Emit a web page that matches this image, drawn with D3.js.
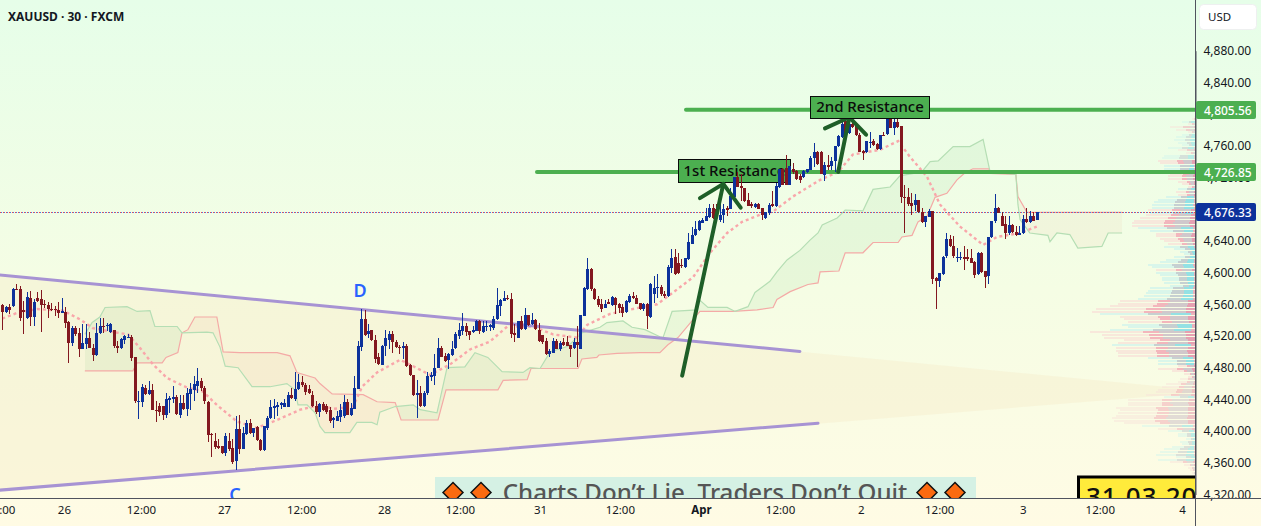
<!DOCTYPE html>
<html><head><meta charset="utf-8">
<style>html,body{margin:0;padding:0;background:#fff;overflow:hidden}svg{display:block}text{font-family:"Noto Sans",sans-serif}</style>
<script src="https://cdn.jsdelivr.net/npm/d3@7/dist/d3.min.js"></script>
</head><body><div id="chart"></div>
<script>
const symbolLabel = "XAUUSD · 30 · FXCM";
const opens = [
4559,4550,4556,4558,4579,4579,4553,4542,4568,4544, 4568,4567,4560,4559,4554,4554,4553,4549,4550,4538,
4511,4530,4524,4504,4509,4517,4505,4496,4524,4533, 4534,4525,4527,4508,4505,4515,4519,4519,4493,4437,
4437,4455,4447,4452,4427,4432,4432,4421,4440,4441, 4443,4421,4436,4428,4447,4452,4457,4463,4454,4437,
4396,4388,4381,4381,4372,4388,4379,4362,4403,4378, 4396,4410,4398,4405,4389,4376,4405,4417,4430,4431,
4433,4431,4431,4446,4441,4453,4462,4458,4453,4446, 4432,4424,4434,4432,4426,4414,4413,4418,4419,4437,
4420,4429,4454,4507,4542,4522,4527,4515,4493,4484, 4507,4515,4522,4512,4506,4505,4507,4483,4471,4446,
4448,4431,4448,4469,4470,4480,4505,4495,4489,4496, 4504,4521,4527,4533,4526,4525,4527,4539,4526,4532,
4531,4531,4541,4558,4564,4568,4567,4524,4517,4539, 4529,4547,4535,4540,4528,4521,4514,4497,4499,4514,
4504,4512,4513,4509,4504,4513,4504,4546,4579,4604, 4579,4567,4561,4556,4563,4559,4568,4560,4556,4550,
4563,4571,4568,4562,4554,4560,4544,4574,4581,4582, 4573,4570,4606,4620,4612,4610,4608,4617,4637,4647,
4654,4663,4666,4671,4682,4680,4667,4672,4681,4681, 4696,4721,4709,4707,4692,4686,4683,4687,4681,4669,
4675,4686,4684,4708,4731,4732,4711,4731,4728,4722, 4721,4727,4730,4745,4752,4752,4724,4736,4735,4741,
4760,4771,4791,4776,4787,4786,4774,4754,4752,4765, 4766,4762,4756,4774,4775,4794,4783,4790,4785,4696,
4696,4688,4685,4691,4676,4664,4671,4678,4593,4589, 4598,4620,4642,4633,4620,4620,4620,4620,4619,4614,
4598,4625,4602,4596,4645,4664,4681,4672,4661,4650, 4660,4651,4647,4650,4668,4664,4672,4666];
const highs = [
4560,4558,4560,4581,4585,4583,4564,4575,4577,4567, 4576,4578,4566,4563,4562,4558,4563,4568,4556,4539,
4532,4533,4530,4535,4535,4525,4510,4537,4543,4543, 4537,4537,4528,4514,4518,4521,4522,4521,4494,4451,
4459,4458,4463,4459,4438,4436,4432,4448,4444,4457, 4445,4445,4445,4455,4461,4470,4479,4467,4457,4438,
4398,4398,4390,4381,4398,4398,4390,4419,4420,4405, 4414,4415,4404,4407,4390,4407,4419,4439,4440,4437,
4437,4440,4449,4455,4474,4472,4469,4461,4458,4451, 4438,4436,4437,4434,4430,4418,4425,4434,4445,4440,
4436,4469,4514,4554,4553,4535,4528,4521,4499,4509, 4528,4526,4526,4515,4509,4512,4510,4485,4471,4465,
4457,4450,4475,4474,4497,4517,4507,4499,4498,4514, 4525,4537,4549,4537,4526,4532,4540,4540,4539,4539,
4535,4545,4580,4567,4577,4572,4574,4535,4539,4545, 4555,4547,4549,4541,4537,4521,4518,4503,4518,4516,
4514,4518,4520,4509,4518,4533,4547,4582,4619,4606, 4580,4570,4567,4565,4567,4570,4569,4562,4560,4566,
4573,4575,4572,4562,4562,4562,4587,4596,4598,4584, 4577,4609,4630,4630,4625,4617,4619,4650,4657,4665,
4667,4669,4681,4686,4686,4686,4686,4686,4684,4707, 4721,4727,4724,4707,4700,4689,4688,4688,4682,4676,
4688,4703,4713,4731,4732,4748,4735,4738,4730,4724, 4730,4731,4747,4763,4753,4753,4739,4749,4746,4760,
4774,4791,4795,4789,4795,4787,4776,4755,4766,4778, 4768,4764,4774,4777,4795,4797,4798,4795,4785,4711,
4707,4701,4699,4692,4681,4672,4680,4678,4594,4600, 4621,4650,4648,4646,4631,4626,4634,4630,4630,4615,
4626,4626,4602,4645,4665,4699,4683,4676,4671,4671, 4661,4659,4659,4673,4681,4678,4676,4676];
const lows = [
4527,4549,4548,4556,4578,4539,4522,4541,4533,4533, 4563,4525,4555,4543,4551,4545,4543,4549,4530,4486,
4507,4520,4494,4504,4503,4505,4488,4495,4522,4524, 4526,4524,4505,4499,4504,4510,4517,4489,4436,4415,
4430,4446,4445,4427,4412,4419,4414,4416,4423,4435, 4420,4417,4427,4419,4427,4438,4448,4450,4434,4386,
4367,4377,4377,4371,4369,4375,4358,4351,4371,4377, 4395,4396,4392,4388,4375,4375,4402,4415,4415,4419,
4428,4431,4431,4440,4438,4452,4456,4446,4447,4431, 4422,4418,4425,4421,4410,4404,4413,4411,4417,4420,
4419,4428,4453,4501,4520,4518,4514,4486,4484,4484, 4495,4503,4499,4505,4497,4491,4481,4470,4444,4416,
4430,4430,4445,4463,4458,4479,4493,4487,4478,4495, 4503,4516,4521,4520,4515,4524,4526,4522,4524,4526,
4526,4527,4540,4545,4564,4565,4517,4512,4517,4528, 4528,4533,4534,4528,4512,4510,4496,4494,4499,4504,
4501,4507,4507,4493,4503,4481,4503,4545,4578,4577, 4565,4556,4550,4555,4560,4558,4548,4549,4544,4549,
4562,4567,4561,4553,4552,4529,4543,4562,4568,4570, 4568,4569,4600,4597,4598,4606,4606,4616,4636,4646,
4653,4662,4665,4669,4668,4667,4664,4662,4671,4681, 4694,4708,4690,4689,4684,4682,4682,4680,4667,4668,
4673,4683,4683,4707,4711,4710,4710,4724,4717,4713, 4720,4726,4729,4733,4736,4724,4716,4730,4730,4727,
4759,4770,4774,4775,4783,4772,4753,4742,4751,4757, 4760,4755,4755,4772,4774,4782,4774,4783,4688,4650,
4684,4673,4678,4675,4663,4657,4670,4585,4554,4582, 4597,4619,4632,4619,4613,4616,4603,4615,4613,4593,
4597,4600,4580,4585,4644,4663,4675,4659,4643,4648, 4650,4646,4647,4649,4663,4663,4666,4666];
const closes = [
4550,4556,4552,4579,4578,4542,4551,4569,4544,4563, 4564,4559,4559,4554,4553,4553,4549,4551,4536,4511,
4530,4522,4504,4511,4517,4505,4496,4524,4533,4532, 4534,4535,4507,4505,4516,4520,4519,4492,4437,4438,
4456,4447,4452,4427,4426,4425,4421,4441,4442,4443, 4421,4436,4428,4448,4453,4459,4463,4454,4437,4395,
4395,4381,4379,4372,4394,4378,4361,4403,4378,4398, 4410,4398,4404,4389,4377,4406,4417,4431,4432,4433,
4436,4436,4446,4442,4453,4462,4458,4449,4448,4432, 4424,4434,4427,4425,4412,4416,4419,4427,4437,4420,
4429,4455,4508,4542,4522,4526,4515,4491,4484,4508, 4517,4522,4512,4506,4505,4507,4482,4470,4446,4448,
4431,4448,4469,4471,4480,4505,4494,4489,4497,4504, 4522,4528,4533,4526,4521,4528,4539,4526,4533,4532,
4534,4542,4559,4565,4568,4567,4523,4522,4539,4529, 4547,4535,4540,4529,4514,4512,4497,4501,4514,4504,
4511,4508,4508,4504,4512,4509,4547,4581,4604,4579, 4566,4560,4555,4561,4560,4569,4559,4555,4549,4564,
4571,4568,4561,4554,4560,4545,4586,4581,4582,4573, 4570,4607,4619,4598,4599,4609,4619,4638,4648,4655,
4665,4667,4672,4682,4670,4670,4673,4680,4679,4697, 4721,4709,4707,4691,4685,4683,4687,4681,4672,4676,
4685,4684,4709,4731,4711,4711,4735,4727,4718,4717, 4728,4731,4745,4752,4737,4724,4736,4733,4741,4760,
4772,4787,4775,4787,4783,4773,4753,4752,4766,4765, 4761,4756,4774,4773,4794,4783,4790,4784,4696,4695,
4687,4684,4691,4676,4664,4672,4678,4592,4589,4599, 4620,4642,4633,4620,4620,4620,4617,4617,4613,4598,
4625,4601,4595,4645,4665,4681,4675,4660,4650,4660, 4651,4647,4650,4668,4664,4672,4666,4676];

const kijunBars = [0,4.2,10,17.4,22.3,26,31.8,36.1,39.5,43.3,47.3,53,57.6,61.6,67.4,73.1,78.9,85.5,91.2,95,100.7,103.3,107.6,114.2,117,122.8,128.5,134.3,140,145,152.4,158.1,165,167.9,174.5,183.1,188,192.6,198.3,203.2,208.1,212.4,217.5,221.3,227,234.8,240,244.2,252,257.2,260.6,265.5,269.2,275,281.6,285.6,292.2,297];
const kijunValues = [4542,4549,4554,4552,4541,4530,4525,4522,4505,4484,4467,4455,4450,4433,4412,4404,4414,4427,4433,4428,4431,4456,4474,4490,4484,4471,4484,4503,4513,4532,4532,4522,4518,4534,4548,4556,4560,4575,4594,4625,4650,4664,4673,4677,4696,4717,4727,4749,4755,4766,4746,4721,4686,4658,4635,4645,4650,4658];
const spanABars = [23.7,25.8,28,29.5,35.8,38.7,42.4,43.8,50.2,51.6,58.8,60.5,62.5,64,67.7,71.7,76.9,81.7,84,84.9,87.5,89.8,91.2,92.6,99.8,101.8,106.1,107.6,108.4,112.8,118,120,124.8,127.7,132.8,135.7,139.4,143.5,149.5,151.5,154.4,157.3,162.4,166.4,171.6,173.6,178.2,180.8,184.5,188.8,189.7,192.3,199.5,200.3,202.6,208.1,210.4,214.1,216.1,220.4,222.4,225.3,229,231.9,234.2,235.4,239.7,242,247.1,250,254.9,257.7,264,266.4,268.7,273,277.8,281.6,283.6,291,291.6,292.2,295,300.2,300.8,302.8,306.5,308.8,315.7,317.5,321.5];
const spanAValues = [4522,4537,4544,4556,4557,4551,4552,4532,4532,4524,4525,4524,4506,4482,4480,4456,4456,4460,4452,4433,4433,4423,4406,4398,4398,4411,4411,4408,4424,4431,4433,4427,4423,4480,4481,4499,4493,4475,4474,4480,4479,4500,4507,4524,4531,4537,4539,4531,4528,4519,4518,4551,4553,4565,4556,4556,4551,4557,4575,4589,4601,4616,4628,4641,4650,4660,4669,4679,4678,4705,4708,4722,4727,4740,4741,4759,4759,4768,4727,4724,4686,4667,4650,4647,4639,4650,4648,4631,4633,4650,4650];
const spanBBars = [23.7,37.5,38.7,45.9,47,50.4,51.6,53.3,55.3,61.6,63.4,68.2,78.9,82.6,84.6,89.8,91.2,94.7,103.6,107.6,112.8,114.5,125.1,127.4,142.3,143.8,150.7,151.8,165.3,166.4,170.7,171.3,176.5,183.1,188.8,191.1,194,200.3,209.8,216.7,221.3,222.4,226.2,231.3,234.2,234.8,240.2,242,247.1,250,257.2,258.3,261.2,262.9,265.5,267.8,271.2,274.1,276.4,278.7,283.3,283.6,291,291.6,294.2,321.5];
const spanBValues = [4476,4476,4486,4486,4493,4499,4524,4528,4544,4544,4500,4499,4499,4495,4474,4467,4460,4447,4446,4437,4436,4414,4414,4452,4452,4464,4465,4479,4479,4491,4493,4496,4498,4499,4499,4509,4518,4551,4551,4553,4556,4566,4576,4585,4587,4601,4602,4625,4625,4638,4638,4645,4647,4664,4671,4695,4700,4717,4726,4731,4731,4725,4724,4696,4676,4676];

const profileUp = [0,0,7,1,4,4,2,7,10,11,9,7,14,4,2,16,17,9,8,16,16,15,5,7,6,4,3,1,9,5,4,15,19,21,22,22,11,23,12,14,15,16,15,29,23,10,11,9,
8,6,16,11,8,6,11,15,18,24,22,10,20,18,17,17,16,13,23,24,25,26,29,18,20,22,25,24,48,18,18,17,37,34,43,26,23,23,18,20,42,20,21,19,19,24,19,19,4,
9,6,3,2,4,4,7,8,9,10,12,16,17,18,16,20,19,19,20,21,20,18,27,9,14,9,9,5,8,7,12,16,18,20,10,19,6,3,2,1,1,0,0];
const profileDown = [1,2,2,4,13,10,4,3,5,5,4,3,6,9,5,8,9,19,18,10,9,8,13,14,14,9,7,4,4,10,9,6,9,10,11,10,24,12,25,28,31,32,32,14,11,20,20,18,
16,14,8,5,4,3,5,7,9,11,10,20,10,9,8,8,8,6,11,12,13,13,14,38,39,43,50,52,23,38,36,34,18,16,21,53,47,46,36,39,21,40,40,39,39,11,9,9,9,
19,12,6,4,8,9,15,17,19,20,25,8,34,34,34,40,38,39,40,42,41,36,13,19,7,4,4,2,4,3,6,8,9,10,5,9,13,6,4,3,2,1,1];
const profileTopPrice = 4798, profileStep = 3.28;
const valueAreaHigh = 4745, valueAreaLow = 4470;

const priceTicks = [4880,4840,4800,4760,4720,4680,4640,4600,4560,4520,4480,4440,4400,4360,4320];
const timeTickBars = [-0.6,17.7,39.8,63.65,85.8,109.6,131.4,154.4,177.3,200.6,223.3,246.5,269,293,315.1,338.7];
const timeTickLabels = ["12:00","26","12:00","27","12:00","28","12:00","31","12:00","Apr","12:00","2","12:00","3","12:00","4"];
const resistance2 = 4805.56, resistance1 = 4726.85, lastPrice = 4676.33;
const upperTrendBars = [-0.7, 229], upperTrendValues = [4597, 4500.5];
const lowerTrendBars = [-0.7, 234.2], lowerTrendValues = [4325.5, 4410];
const triangleApexBar = 348, triangleApexValue = 4450;
const arrow1Bars = [195.2,207,200.3,207,212], arrow1Values = [4470,4712,4694,4712,4682];
const arrow2Bars = [240,243.2,236.2,243.2,248],arrow2Values = [4727,4796,4782,4796,4774];

const W=1261,H=526,axisX=1195.5,axisY=498.5;
const x=d3.scaleLinear().domain([0,297]).range([2.3,2.3+297*3.483]);
const y=d3.scaleLinear().domain([4880,4320]).range([50.7,494.5]);
const vol=d3.scaleLinear().domain([0,100]).range([0,100]);
const FONT='"Noto Sans",sans-serif';

const svg=d3.select("#chart").append("svg").attr("width",W).attr("height",H);
const defs=svg.append("defs");
const g=defs.append("linearGradient").attr("id","bg").attr("x1",0).attr("y1",0).attr("x2",0).attr("y2",1);
g.append("stop").attr("offset","0%").attr("stop-color","#e6fee9");
g.append("stop").attr("offset","55%").attr("stop-color","#f5fde4");
g.append("stop").attr("offset","100%").attr("stop-color","#fffbe4");
svg.append("rect").attr("width",W).attr("height",H).attr("fill","url(#bg)");
defs.append("clipPath").attr("id","plot").append("rect").attr("width",axisX).attr("height",axisY);

const spanA=spanABars.map((b,i)=>[b,spanAValues[i]]);
const spanB=spanBBars.map((b,i)=>[b,spanBValues[i]]);
const lineGen=d3.line().x(d=>x(d[0])).y(d=>y(d[1]));
const areaUp=d3.area().x(d=>x(d[0])).y0(0).y1(d=>y(d[1]));
const areaDown=d3.area().x(d=>x(d[0])).y0(H).y1(d=>y(d[1]));
defs.append("clipPath").attr("id","belowA").append("path").attr("d",areaDown(spanA));
defs.append("clipPath").attr("id","belowB").append("path").attr("d",areaDown(spanB));

const plot=svg.append("g").attr("clip-path","url(#plot)");
// triangle
plot.append("path").attr("fill","#f6eccb").attr("fill-opacity",.42).attr("d",d3.line()([
 [x(upperTrendBars[0]),y(upperTrendValues[0])],[x(triangleApexBar),y(triangleApexValue)],[x(lowerTrendBars[0]),y(lowerTrendValues[0])]]));
// profile
const pf=plot.append("g").attr("shape-rendering","crispEdges");
profileUp.forEach((u,i)=>{
  const d=profileDown[i],price=profileTopPrice-i*profileStep,ry=Math.round(y(price)),h=2;
  const teal=u>=d,dom=Math.max(u,d),mn=Math.min(u,d);
  const inVA=price<=valueAreaHigh&&price>=valueAreaLow;
  const row=pf.append("g").attr("opacity",inVA?.82:.5);
  const r=(a,b,c)=>row.append("rect").attr("x",axisX-vol(b)).attr("width",vol(b-a)).attr("y",ry).attr("height",h).attr("fill",c);
  r(dom,dom*2,teal?"#d3f5ec":"#f8e3d9");
  if(teal){ r(0,dom,"#7edbe4"); r(dom-mn,dom,"#bcc6cd"); r(0,mn*.2,"#e7a2b4"); }
  else { r(0,dom,"#f2a6b4"); r(mn*.4,mn*1.4,"#c9bcc6"); r(0,mn*.4,"#e28ba6"); }
});
// cloud
const cl=plot.append("g");
cl.append("g").attr("clip-path","url(#belowA)").append("path").attr("d",areaUp(spanB)).attr("fill","#4caf50").attr("fill-opacity",.07);
cl.append("g").attr("clip-path","url(#belowB)").append("path").attr("d",areaUp(spanA)).attr("fill","#ef6c50").attr("fill-opacity",.055);
cl.append("path").attr("d",lineGen(spanB)).attr("fill","none").attr("stroke","#f4aaa6").attr("stroke-width",1.2);
cl.append("path").attr("d",lineGen(spanA)).attr("fill","none").attr("stroke","#b5deb4").attr("stroke-width",1.2);
// kijun
plot.append("path").attr("d",lineGen(kijunBars.map((b,i)=>[b,kijunValues[i]]))).attr("fill","none").attr("stroke","#f9a6aa").attr("stroke-width",2.4).attr("stroke-dasharray","3 3");
// purple trend lines
[[upperTrendBars,upperTrendValues],[lowerTrendBars,lowerTrendValues]].forEach(([b,v])=>{
  plot.append("path").attr("d",lineGen(b.map((q,i)=>[q,v[i]]))).attr("fill","none").attr("stroke","#a793d3").attr("stroke-width",3).attr("stroke-linecap","round");
});
// resistance lines
const green="#4caf50";
plot.append("line").attr("x1",537).attr("x2",axisX).attr("y1",y(resistance1)).attr("y2",y(resistance1)).attr("stroke",green).attr("stroke-width",4).attr("stroke-linecap","round");
plot.append("line").attr("x1",686).attr("x2",axisX).attr("y1",y(resistance2)).attr("y2",y(resistance2)).attr("stroke",green).attr("stroke-width",4).attr("stroke-linecap","round");
function tag(parent,x0,y0,w,h,t){
  parent.append("rect").attr("x",x0+.5).attr("y",y0+.5).attr("width",w).attr("height",h).attr("fill",green).attr("stroke","#0b0b0b").attr("stroke-width",1);
  parent.append("text").attr("x",x0+w/2+.5).attr("y",y0+h/2+5).attr("text-anchor","middle").attr("font-size",15).attr("font-weight",500).attr("fill","#0b0b0b").text(t);
}
tag(plot,678,159,112,23,"1st Resistance");
// price dotted
plot.append("line").attr("x1",0).attr("x2",axisX).attr("y1",212.5).attr("y2",212.5).attr("stroke","#f4474f").attr("stroke-dasharray","1 2").attr("class","last").attr("data-price",lastPrice);
plot.append("line").attr("x1",0).attr("x2",axisX).attr("y1",212.5).attr("y2",212.5).attr("stroke","#4a7fe6").attr("stroke-dasharray","1 2").attr("stroke-dashoffset",-1);
// candles
const BLUE="#0d329b",RED="#831820";
const cg=plot.append("g").attr("shape-rendering","crispEdges");
opens.forEach((o,i)=>{
  const c=closes[i],col=c>=o?BLUE:RED,cx=Math.round(x(i));
  cg.append("line").attr("x1",cx+.5).attr("x2",cx+.5).attr("y1",y(highs[i])).attr("y2",y(lows[i])).attr("stroke",col);
  const top=y(Math.max(o,c)),bot=y(Math.min(o,c));
  cg.append("rect").attr("x",cx-1).attr("width",3).attr("y",Math.round(top)).attr("height",Math.max(1,Math.round(bot-top))).attr("fill",col);
});
// arrows
[[arrow1Bars,arrow1Values],[arrow2Bars,arrow2Values]].forEach(([b,v])=>{
  plot.append("path").attr("d",lineGen(b.slice(0,2).map((q,i)=>[q,v[i]]))).attr("fill","none").attr("stroke","#1e5f28").attr("stroke-width",4).attr("stroke-linecap","round");
  plot.append("path").attr("d",lineGen(b.slice(2).map((q,i)=>[q,v[i+2]]))).attr("fill","none").attr("stroke","#1e5f28").attr("stroke-width",4).attr("stroke-linecap","round").attr("stroke-linejoin","round");
});
tag(plot,810,96,119,22,"2nd Resistance");
// wave letters
plot.append("text").attr("x",360).attr("y",297).attr("text-anchor","middle").attr("font-size",18).attr("font-weight",600).attr("fill","#2962ff").text("D");
plot.append("text").attr("x",235).attr("y",501).attr("text-anchor","middle").attr("font-size",18).attr("font-weight",600).attr("fill","#2962ff").text("C");
// banner
plot.append("rect").attr("x",435).attr("y",477).attr("width",541).attr("height",30).attr("fill","#d5f1e4");
plot.append("text").attr("x",705).attr("y",501).attr("text-anchor","middle").attr("font-size",24.1).attr("font-weight",500).attr("fill","#555").text("Charts Don’t Lie, Traders Don’t Quit");
[453,481,927,955].forEach(cx=>{
  plot.append("path").attr("d",d3.line()([[cx-10,492.5],[cx,482.5],[cx+10,492.5],[cx,502.5]])+"Z").attr("fill","#fb6a10").attr("stroke","#111").attr("stroke-width",1.5);
});
// date box
plot.append("rect").attr("x",1078.5).attr("y",477).attr("width",140).attr("height",40).attr("fill","#ffeb3b").attr("stroke","#000").attr("stroke-width",3);
plot.append("text").attr("x",1086).attr("y",506).attr("font-size",26).attr("font-weight",500).attr("letter-spacing",1).attr("fill","#111").text("31.03.2026");
// title
svg.append("text").attr("x",8).attr("y",21).attr("font-size",12).attr("font-weight",700).attr("fill","#131722").text(symbolLabel);

// axes
const AXC="#50535e";
const yAxis=svg.append("g").attr("transform",`translate(${axisX},0)`).call(d3.axisRight(y).tickValues(priceTicks).tickFormat(d3.format(",.2f")).tickSize(0).tickPadding(8));
yAxis.select(".domain").attr("stroke",AXC);
yAxis.selectAll("text").attr("font-size",12).attr("font-family",FONT).attr("fill","#131722");
const xAxis=svg.append("g").attr("transform",`translate(0,${axisY})`).call(d3.axisBottom(x).tickValues(timeTickBars).tickFormat((d,i)=>timeTickLabels[i]).tickSize(0).tickPadding(7));
xAxis.select(".domain").remove();
svg.append("line").attr("x1",0).attr("x2",W).attr("y1",axisY).attr("y2",axisY).attr("stroke",AXC);
svg.append("line").attr("x1",axisX).attr("x2",axisX).attr("y1",0).attr("y2",H).attr("stroke",AXC);
xAxis.selectAll("text").attr("font-size",11.5).attr("font-family",FONT).attr("fill","#131722").attr("font-weight",(d,i)=>timeTickLabels[i]==="Apr"?700:400);
// usd button
svg.append("rect").attr("x",1199.5).attr("y",4.5).attr("width",57).attr("height",25).attr("rx",4).attr("fill","#fff").attr("stroke","#eef0f0");
svg.append("text").attr("x",1208).attr("y",21).attr("font-size",11.5).attr("fill","#131722").text("USD");
// price tags
function ptag(v,c){
  const cy=Math.round(y(v));
  svg.append("rect").attr("x",axisX+.5).attr("y",cy-9).attr("width",60).attr("height",18).attr("rx",2).attr("fill",c);
  svg.append("text").attr("x",1204).attr("y",cy+4.5).attr("font-size",12).attr("font-weight",500).attr("fill","#fff").text(d3.format(",.2f")(v));
}
ptag(resistance2,green);ptag(resistance1,green);ptag(lastPrice,BLUE);
</script></body></html>
